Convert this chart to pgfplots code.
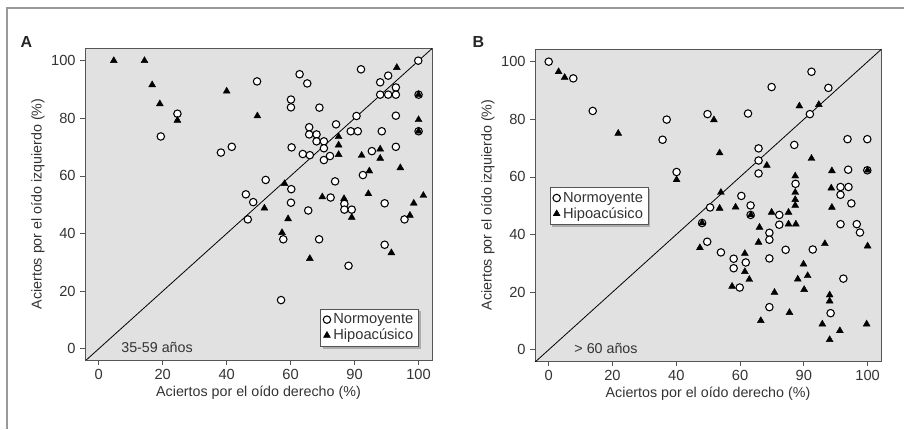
\documentclass[border=0pt]{standalone}
\usepackage{fontspec}
\setmainfont{Liberation Sans}
\usepackage{pgfplots}
\pgfplotsset{compat=1.18}
\usetikzlibrary{shadows}
\definecolor{panelbg}{HTML}{E1E1E1}
\definecolor{txt}{HTML}{333333}
\definecolor{boxc}{HTML}{555555}

\pgfplotstableread{
x y
19.4 73.7
24.6 81.6
38.2 68.1
41.6 70.1
49.5 92.8
52.2 58.6
46.0 53.6
48.3 50.9
46.6 44.9
62.8 95.3
65.2 92.1
60.1 86.5
60.1 83.8
69.0 83.7
60.3 69.9
65.8 76.9
65.8 74.4
68.1 74.4
68.1 72.0
70.4 72.0
70.4 69.6
63.8 67.6
66.0 67.2
70.4 65.5
72.3 66.9
74.2 77.9
78.8 75.5
81.0 75.5
80.6 80.8
82.0 97.0
73.9 58.1
72.5 52.5
60.2 55.4
60.1 50.7
65.5 48.0
76.8 50.3
76.8 48.3
79.1 48.3
57.7 38.0
68.9 38.0
78.1 28.8
57.0 16.9
82.6 60.3
85.4 68.6
88.5 75.5
88.0 92.5
88.0 88.2
90.5 94.8
90.5 88.2
92.9 90.7
92.9 88.2
92.9 80.9
92.9 70.1
89.4 50.5
95.6 44.9
89.4 36.1
99.9 100.0
100.0 88.2
100.0 75.5
}\normA

\pgfplotstableread{
x y
4.7 100.0
14.3 100.0
16.7 91.6
19.1 85.0
24.6 79.3
40.0 89.4
49.6 80.8
51.8 48.8
58.1 57.3
57.3 40.3
59.2 45.1
66.0 31.3
69.9 52.7
75.0 73.6
75.0 70.7
75.0 67.4
76.7 52.1
79.1 45.6
82.2 67.1
84.6 61.7
84.3 53.8
88.0 69.3
88.0 66.1
91.5 33.3
93.2 97.6
94.3 62.8
97.3 46.3
98.5 50.5
100.0 79.5
100.0 88.2
100.0 75.5
101.5 53.2
}\hipoA

\pgfplotstableread{
x y
0.0 100.0
7.7 94.2
13.8 82.9
37.0 79.9
35.7 72.9
40.1 61.7
49.8 81.8
48.1 44.0
50.6 49.4
49.7 37.5
54.0 33.8
58.0 31.6
58.0 28.3
59.9 21.6
61.8 30.3
60.4 53.4
63.3 50.1
63.3 46.8
62.5 82.0
65.8 69.9
65.8 65.7
65.8 61.2
69.9 91.2
69.2 40.6
69.2 38.2
69.2 31.7
69.2 14.8
72.3 46.8
72.3 43.4
74.3 34.7
77.0 71.1
77.4 57.6
82.4 96.5
81.9 81.8
82.8 34.8
87.7 90.9
93.7 73.1
99.9 73.1
93.9 62.5
99.9 62.3
91.5 56.5
94.0 56.5
91.5 53.8
94.9 50.8
91.5 43.6
96.6 43.6
97.6 40.7
92.4 24.7
88.4 12.7
}\normB

\pgfplotstableread{
x y
3.1 96.5
5.0 94.5
21.8 75.1
40.1 59.0
51.8 79.8
53.6 68.3
54.0 54.6
53.6 49.1
58.6 49.5
48.1 44.0
47.4 35.4
57.5 22.0
61.5 33.4
61.5 27.1
62.9 24.4
63.4 46.8
66.1 42.5
65.8 37.3
66.5 10.1
68.4 64.0
69.9 47.7
70.8 19.9
75.2 47.7
75.2 43.6
75.5 12.9
77.3 60.3
77.3 54.6
77.3 52.1
77.3 50.1
77.5 43.6
78.1 24.5
78.6 84.6
79.9 29.7
80.1 20.9
81.2 25.7
82.4 66.4
84.7 85.1
86.6 36.8
85.8 8.9
88.1 19.0
88.1 16.9
88.1 3.5
88.8 62.1
88.6 56.1
88.8 49.4
91.3 6.6
99.7 8.9
100.0 36.0
100.0 62.3
}\hipoB

\pgfplotsset{
  panel/.style={
    scale only axis,
    anchor=south west,
    height=234pt,
    xmin=-4.3, xmax=104.2,
    ymin=-3.9, ymax=104.4,
    axis background/.style={fill=panelbg},
    axis line style={draw=boxc, line width=0.7pt},
    tick align=outside,
    tick pos=left,
    major tick length=3.5pt,
    tick style={draw=boxc, line width=0.6pt},
    xtick={0,20,40,60,80,100},
    xticklabels={0,20,40,60,90,100},
    ytick={0,20,40,60,80,100},
    yticklabels={0,20,40,60,80,100},
    tick label style={font=\fontsize{11}{12}\selectfont, text=txt},
    label style={font=\fontsize{10.7}{12}\selectfont, text=txt},
    xlabel={Aciertos por el oído derecho (\%)},
    ylabel={Aciertos por el oído izquierdo (\%)},
    xlabel style={yshift=2pt},
    ylabel style={yshift=-2pt},
    clip=true,
    legend style={draw=boxc, fill=white, line width=0.6pt,
      font=\fontsize{11}{12}\selectfont, text=txt,
      inner xsep=2pt, inner ysep=1.5pt, row sep=-1.5pt,
      cells={anchor=west},
      drop shadow={shadow xshift=1.6pt, shadow yshift=-1.6pt, fill=gray!75, opacity=0.8}},
    legend image code/.code={\draw[mark repeat=2, mark phase=2, #1] plot coordinates {(0cm,0cm) (0.1cm,0cm) (0.2cm,0cm)};},
  },
  circf/.style={only marks, mark=*, mark size=2.8pt,
    mark options={draw=black, fill=white, line width=0.8pt}},
  tri/.style={only marks, mark=triangle*, mark size=3.0pt,
    mark options={draw=black, fill=black, line width=0.3pt}},
}

\begin{document}
\begin{tikzpicture}
\useasboundingbox (0,0) rectangle (678pt,321.75pt);
\draw[color=gray!80, line width=0.8pt] (5.25pt,0) -- (5.25pt,315.75pt) -- (678pt,315.75pt);

\begin{axis}[panel, at={(63.75pt,51.75pt)}, width=260.25pt,
  legend style={at={(0.9625,0.042)}, anchor=south east}]
\addplot[circf] table {\normA};
\addlegendentry{Normoyente}
\addplot[tri] table {\hipoA};
\addlegendentry{Hipoacúsico}
\addplot[black, line width=0.6pt, forget plot] coordinates {(-10,-10) (110,110)};
\node[anchor=west, font=\fontsize{10.7}{12}\selectfont, text=txt] at (axis cs:5.6,0.6) {35-59 años};
\end{axis}

\begin{axis}[panel, at={(401.25pt,51pt)}, width=259.5pt,
  legend style={at={(0.043,0.558)}, anchor=north west}]
\addplot[circf] table {\normB};
\addlegendentry{Normoyente}
\addplot[tri] table {\hipoB};
\addlegendentry{Hipoacúsico}
\addplot[black, line width=0.6pt, forget plot] coordinates {(-10,-10) (110,110)};
\node[anchor=west, font=\fontsize{10.7}{12}\selectfont, text=txt] at (axis cs:6.6,0.6) {> 60 años};
\end{axis}

\node[anchor=west, font=\bfseries\fontsize{12}{14}\selectfont, text=black!85] at (12pt,290pt) {A};
\node[anchor=west, font=\bfseries\fontsize{12}{14}\selectfont, text=black!85] at (351pt,290pt) {B};
\end{tikzpicture}
\end{document}
